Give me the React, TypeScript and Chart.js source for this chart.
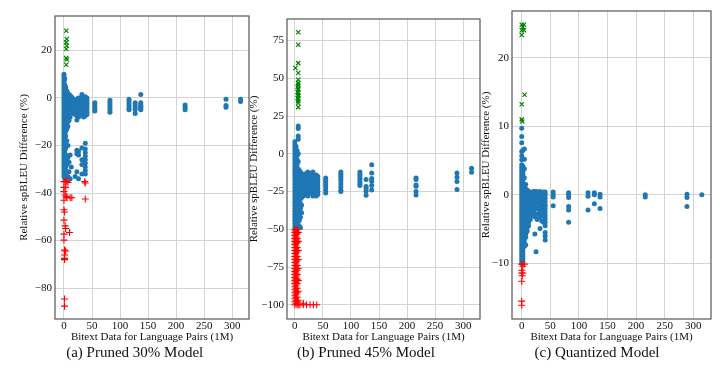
import React, { useEffect, useRef } from "react";
import { Chart, registerables } from "chart.js";

Chart.register(...registerables);

type Col = [number, number[]];

// ---------- tick labels ----------
const xTicks = [0, 50, 100, 150, 200, 250, 300];
const yTicksA = [-80, -60, -40, -20, 0, 20];
const yTicksB = [-100, -75, -50, -25, 0, 25, 50, 75];
const yTicksC = [-10, 0, 10, 20];

const xTitle = "Bitext Data for Language Pairs (1M)";
const yTitle = "Relative spBLEU Difference (%)";
const captions = ["(a) Pruned 30% Model", "(b) Pruned 45% Model", "(c) Quantized Model"];

// ---------- (a) Pruned 30% ----------
const aBlue: Col[] = [
  [0, [10, 9, 8, 7, 6, 5, 4, 3, 2, 1, 0, -1, -2, -3, -4, -5, -6, -7, -8, -9, -10, -11, -12, -13, -14, -15, -16, -17, -18, -19, -20, -21, -22, -23, -24, -25, -26, -27, -28, -29, -30, -31, -32, -33]],
  [1.5, [8, 5.5, 4, 3, 2, 1, 0, -1, -2, -3, -4, -5, -6, -7, -8, -9, -10, -11, -12, -13, -14, -15, -16, -17, -18, -19, -20, -21, -22, -23, -24, -25, -26, -27, -28, -29, -30, -32, -34]],
  [3, [4.5, 2.5, 1.5, 0.5, -0.5, -1.5, -2.5, -3.5, -4.5, -5.5, -6.5, -7.5, -8.5, -9.5, -10.5, -11.5, -12.5, -14, -16, -21, -24, -27, -29]],
  [5, [3, 1.5, 0.5, -0.5, -1.5, -2.5, -3.5, -4.5, -5.5, -6.5, -7.5, -8.5, -9.5, -11, -13, -18, -26, -28, -31]],
  [7, [2, 1, 0, -1, -2, -3, -4, -5, -6, -7, -8, -9, -10, -12, -20, -25, -33]],
  [9, [1.5, 0.5, -0.5, -1.5, -2.5, -3.5, -4.5, -5.5, -6.5, -7.5, -8.5, -9.5, -27, -31]],
  [11, [1, 0, -1, -2, -3, -4, -5, -6, -7, -8, -24, -34]],
  [13, [0.5, -0.5, -1.5, -2.5, -3.5, -4.5, -5.5, -6.5, -29]],
  [15, [0, -1, -2, -3, -4, -5, -6]],
  [20, [-1, -2.5, -4, -5.5, -7, -33]],
  [23, [-0.5, -1.5, -2.5, -3.5, -4.5, -5.5, -6.5, -7.5, -9.3, -22, -23.5, -31]],
  [26, [0, -1, -2, -3, -4, -5, -6, -7, -8, -22.5, -24, -34]],
  [29, [-1, -2, -3, -4, -5, -6, -7]],
  [32, [1.5, 0, -1, -2, -3, -4, -5, -6, -7, -21, -26, -28, -32]],
  [35, [-0.5, -1.5, -2.5, -3.5, -4.5, -5.5, -6.5, -8]],
  [38, [0.5, -0.5, -1.5, -2.5, -3.5, -4.5, -5.5, -6.5, -7.5, -19, -21.5, -23, -24.5, -26, -27.5, -29, -30.5, -32]],
  [41, [0, -1, -2, -3, -4, -5, -6, -7]],
  [55, [-2, -3, -4, -5, -5.5]],
  [82, [-1, -2, -3, -4, -5, -6]],
  [116, [-0.5, -1.5, -2.5, -3.5, -4.5, -5]],
  [127, [-2, -3, -4, -5, -6.5]],
  [137, [1.5, -2, -3, -3.5, -4, -4.5, -5]],
  [216, [-3, -4, -5]],
  [289, [-0.5, -3.2, -3.9]],
  [315, [-0.5, -1.5]],
];
const aRedX = [0, 3, 5, 7, 37, 38, 0, 3, 0, 2, 4, 5, 11, 14, 38, 0, 0, 1, 0, 2, 3, 10, 0, 0, 1, 3, 1, 1, 1, 1, 1];
const aRedY = [-35.2, -35.2, -35, -35.5, -35.2, -35.8, -37.6, -37.6, -39.4, -40.8, -41.5, -42, -42, -42, -42.5, -43, -47, -48, -51.4, -53.8, -54.9, -56.6, -57.3, -59.8, -64, -64.4, -66.1, -67.5, -68, -84.6, -87.6];
const aGreenX = [4, 5, 4, 5, 4, 4, 5, 4];
const aGreenY = [28.3, 24.8, 23.4, 22, 20.6, 16.8, 16.2, 14];

// ---------- (b) Pruned 45% ----------
const bBlue: Col[] = [
  [0, [8, 6, 4, 2, 0, -2, -4, -6, -8, -10, -12, -14, -16, -18, -20, -22, -24, -26, -28, -30, -32, -34, -36, -38, -40, -42, -44, -46, -48, -50]],
  [2, [5, 3, 1, -1, -3, -5, -7, -9, -11, -13, -15, -17, -19, -21, -23, -25, -27, -29, -31, -33, -35, -37, -39, -41, -43, -45, -47, -49]],
  [4, [2, -1, -4, -7, -10, -12, -14, -16, -18, -20, -22, -24, -26, -28, -30, -32, -34, -36, -38, -40, -42, -44, -46, -48, -50]],
  [6, [18.4, 16.7, 11.8, 9.7, 0, -5, -10, -12, -14, -16, -18, -20, -22, -24, -26, -28, -30, -32, -34, -36, -38, -40, -42, -45]],
  [8, [-11, -13, -15, -17, -19, -21, -23, -25, -27, -29, -31, -33, -35, -37, -40, -44, -48]],
  [10, [-12, -14, -16, -18, -20, -22, -24, -26, -28, -30, -33, -36, -42, -49]],
  [12, [-13, -15, -17, -19, -21, -23, -25, -27, -29, -34, -39]],
  [15, [-14, -16, -18, -20, -22, -24, -26, -28]],
  [20, [-13, -15, -17, -19, -21, -23, -25, -27]],
  [23, [-12, -14, -16, -18, -20, -22, -24, -26, -28]],
  [26, [-14, -16, -18, -20, -22, -24, -26]],
  [29, [-13, -15, -17, -19, -21, -23, -25]],
  [32, [-12, -14, -16, -18, -20, -22, -24, -26, -28]],
  [35, [-15, -17, -19, -21, -23, -25, -27]],
  [38, [-14, -16, -18, -20, -22, -24, -26, -28]],
  [41, [-15, -17, -19, -21, -23, -25, -27]],
  [55, [-16, -17.5, -19, -20.5, -22, -24, -26]],
  [82, [-12, -13.5, -15, -16.5, -18, -20, -22, -24, -25]],
  [116, [-12, -13.5, -15, -16.5, -18, -19.5, -21]],
  [127, [-17, -21.6, -23, -24.8, -27.4]],
  [137, [-7.2, -12.7, -16.4, -18.2, -20.9, -24]],
  [216, [-16, -17, -20.6, -21.5, -25, -27.2]],
  [289, [-12.7, -15.5, -18.4, -23.7]],
  [315, [-9.6, -12.2]],
];
const bRed: Col[] = [
  [0, [-50, -52, -54, -56, -58, -60, -62, -64, -66, -68, -70, -72, -74, -76, -78, -80, -82, -84, -86, -88, -90, -92, -94, -96, -98, -100]],
  [2, [-51, -53, -55, -57, -59, -61, -63, -65, -67, -69, -71, -73, -75, -77, -79, -81, -83, -85, -87, -89, -91, -93, -95, -97, -99]],
  [4, [-50, -53, -56, -59, -62, -65, -68, -71, -74, -77, -80, -83, -86, -89, -92, -95, -98, -100]],
  [6, [-52, -58, -64, -70, -76, -84, -91, -97, -100]],
  [9, [-100]],
  [15, [-100, -99]],
  [21, [-100]],
  [27, [-100]],
  [33, [-100]],
  [39, [-100]],
];
const bGreenX = [6, 6, 6, 1, 6, 6, 6, 6, 5, 6, 6, 5, 6, 6, 6, 5, 6, 6, 6, 6];
const bGreenY = [80.5, 72.2, 60.1, 56.8, 53.5, 49.1, 47, 45.8, 44.3, 43, 42.6, 41, 40.4, 39, 38.2, 37, 36.6, 34.9, 33.5, 30.9];

// ---------- (c) Quantized ----------
const cBlue: Col[] = [
  [0, [9.7, 8.5, 7.6, 6.3, 5.7, 5.1, 4.4, 4.0, 3.6, 3.2, 2.8, 2.4, 2.0, 1.6, 1.2, 0.8, 0.4, 0, -0.4, -0.8, -1.2, -1.6, -2.0, -2.4, -2.8, -3.2, -3.6, -4.0, -4.4, -4.8, -5.2, -5.6, -6.0, -6.4, -6.8, -7.2, -7.6, -8.0, -8.4, -8.8, -9.2, -9.6, -10.0]],
  [2, [6.5, 4.2, 3.8, 3.4, 3.0, 2.6, 2.2, 1.8, 1.4, 1.0, 0.6, 0.2, -0.2, -0.6, -1.0, -1.4, -1.8, -2.2, -2.6, -3.0, -3.4, -3.8, -4.2, -4.6, -5.0, -5.4, -5.8, -6.2, -6.6, -7.0, -7.4, -7.8, -8.2, -8.6, -9.0, -9.4, -9.8]],
  [4.6, [6.7, 5.2, 3.8, 2.5, 1.5, 1.0, 0.5, 0, -0.5, -1.0, -1.5, -2.0, -2.5, -3.0, -3.5, -4.0, -4.5, -5.0, -5.5, -6.0, -6.5, -7.0, -7.5]],
  [7, [1.5, 0.8, 0.3, -0.2, -0.7, -1.2, -1.7, -2.2, -2.7, -3.2, -3.7, -4.2, -4.7, -5.2, -5.7, -6.2, -7.3]],
  [9.5, [0.7, 0.2, -0.3, -0.8, -1.3, -1.8, -2.3, -2.8, -3.3, -3.8, -4.3, -4.8, -5.3]],
  [12, [0.5, 0, -0.5, -1.0, -1.5, -2.0, -2.5, -3.0, -3.5, -4.0, -4.5]],
  [15, [0.4, -0.1, -0.6, -1.1, -1.6, -2.1, -2.6, -3.1, -3.6]],
  [18, [0.3, -0.3, -0.9, -1.5, -2.1, -2.7]],
  [21, [0.5, 0, -0.5, -1.0, -1.5, -2.0, -2.5, -3.0]],
  [23, [0.3, -0.5, -1.3, -2.1, -3.2, -5.7]],
  [25, [0.5, -0.2, -1.0, -2.0, -8.3]],
  [27, [0.4, -0.3, -1.1, -1.9, -2.8, -3.6]],
  [30, [0.3, -0.4, -1.2, -2.0, -2.8]],
  [32, [0.5, 0, -0.8, -1.6, -2.4, -3.2, -4.9]],
  [35, [0.3, -0.5, -1.3, -2.2, -3.0, -3.8]],
  [38, [0.4, -0.2, -0.9, -1.6, -2.4, -3.1, -4.0]],
  [41, [0.4, 0, -0.5, -1, -1.5, -2, -2.5, -3, -3.5, -4, -4.5, -5.5, -6, -6.6]],
  [55, [0.4, 0, -0.3, -1.6]],
  [82, [0.3, 0, -0.4, -1.7, -2.2, -4]],
  [116, [0.3, -0.2, -2.2]],
  [127, [0.3, 0, -1.3]],
  [137, [0.1, -0.3, -2.0]],
  [216, [0, -0.3]],
  [289, [0.1, -0.4, -1.7]],
  [315, [0]],
];
const cRedX = [0, 4.6, 2, 0, 2, 0, 1, 0, 0, 0];
const cRedY = [-10.1, -10.1, -10.4, -11, -11.4, -11.4, -11.8, -12.6, -15.5, -16.1];
const cGreenX = [0, 4, 2, 0, 4, 0, 5, 0, 0, 1];
const cGreenY = [24.8, 24.8, 24.5, 24, 24, 23.3, 14.6, 13.2, 11, 10.7];

// ---------- helpers ----------
const fromCols = (cols: Col[]) => cols.flatMap(([x, ys]) => ys.map((y) => ({ x, y })));
const fromXY = (xs: number[], ys: number[]) => xs.map((x, i) => ({ x, y: ys[i] }));

const SERIF = "'Liberation Serif', 'DejaVu Serif', 'Times New Roman', serif";

interface PanelCfg {
  blue: { x: number; y: number }[];
  red: { x: number; y: number }[];
  green: { x: number; y: number }[];
  yTicks: number[];
  yMin: number;
  yMax: number;
  xMin: number;
  xMax: number;
  padLeft: number;
  padRight: number;
  padTop: number;
  yWidth: number;
}

const panels: PanelCfg[] = [
  {
    blue: fromCols(aBlue), red: fromXY(aRedX, aRedY), green: fromXY(aGreenX, aGreenY),
    yTicks: yTicksA, yMin: -93, yMax: 34.5, xMin: -16, xMax: 330,
    padLeft: 14, padRight: 720 - 249, padTop: 16, yWidth: 41,
  },
  {
    blue: fromCols(bBlue), red: fromCols(bRed), green: fromXY(bGreenX, bGreenY),
    yTicks: yTicksB, yMin: -109.4, yMax: 89.3, xMin: -14, xMax: 330,
    padLeft: 244, padRight: 720 - 480, padTop: 19, yWidth: 43,
  },
  {
    blue: fromCols(cBlue), red: fromXY(cRedX, cRedY), green: fromXY(cGreenX, cGreenY),
    yTicks: yTicksC, yMin: -18.1, yMax: 26.8, xMin: -17, xMax: 331,
    padLeft: 476, padRight: 9, padTop: 11, yWidth: 36,
  },
];

const framePlugin = {
  id: "frame",
  afterDraw(chart: any) {
    const { ctx, chartArea } = chart;
    ctx.save();
    ctx.strokeStyle = "#555555";
    ctx.lineWidth = 1.2;
    ctx.strokeRect(chartArea.left, chartArea.top, chartArea.right - chartArea.left, chartArea.bottom - chartArea.top);
    ctx.restore();
  },
};

const minus = (v: any) => String(v).replace("-", "\u2212");

function Panel({ cfg }: { cfg: PanelCfg }) {
  const ref = useRef<HTMLCanvasElement>(null);
  useEffect(() => {
    const chart = new Chart(ref.current as HTMLCanvasElement, {
      type: "scatter",
      data: {
        datasets: [
          {
            data: cfg.red, pointStyle: "cross", pointRadius: 3.5,
            borderColor: "#ff0000", backgroundColor: "#ff0000", borderWidth: 1.1,
          },
          {
            data: cfg.green, pointStyle: "crossRot", pointRadius: 3,
            borderColor: "#008000", backgroundColor: "#008000", borderWidth: 1.2,
          },
          {
            data: cfg.blue, pointStyle: "circle", pointRadius: 2.5,
            backgroundColor: "#1f77b4", borderColor: "#1f77b4", borderWidth: 0,
          },
        ],
      } as any,
      options: {
        animation: false,
        responsive: false,
        devicePixelRatio: 1,
        events: [],
        layout: { padding: { left: cfg.padLeft, right: cfg.padRight, top: cfg.padTop, bottom: 30 } },
        plugins: { legend: { display: false }, tooltip: { enabled: false } },
        scales: {
          x: {
            type: "linear",
            min: cfg.xMin,
            max: cfg.xMax,
            afterBuildTicks: (s: any) => { s.ticks = xTicks.map((v) => ({ value: v })); },
            afterFit: (s: any) => { s.height = 29; },
            grid: { color: "#d4d4d4", lineWidth: 1, drawTicks: false },
            border: { display: false },
            ticks: { color: "#111", font: { family: SERIF, size: 11 }, padding: 1, maxRotation: 0, callback: minus },
            title: { display: true, text: xTitle, color: "#111", font: { family: SERIF, size: 11 }, padding: { top: 0, bottom: 4 } },
          },
          y: {
            type: "linear",
            min: cfg.yMin,
            max: cfg.yMax,
            afterBuildTicks: (s: any) => { s.ticks = cfg.yTicks.map((v) => ({ value: v })); },
            afterFit: (s: any) => { s.width = cfg.yWidth; },
            grid: { color: "#d4d4d4", lineWidth: 1, drawTicks: false },
            border: { display: false },
            ticks: { color: "#111", font: { family: SERIF, size: 11 }, padding: 3, callback: minus },
            title: { display: true, text: yTitle, color: "#111", font: { family: SERIF, size: 11 }, padding: { top: 4, bottom: 0 } },
          },
        },
      } as any,
      plugins: [framePlugin],
    });
    return () => chart.destroy();
  }, [cfg]);
  return (
    <canvas
      ref={ref}
      width={720}
      height={378}
      style={{ position: "absolute", left: 0, top: 0, width: 720, height: 378 }}
    />
  );
}

const captionCenters = [134.7, 366, 597];

export default function App() {
  return (
    <div style={{ position: "absolute", left: 0, top: 0, width: 720, height: 378, background: "#fff", overflow: "hidden" }}>
      {panels.map((p, i) => (
        <Panel key={i} cfg={p} />
      ))}
      {captions.map((c, i) => (
        <div
          key={c}
          style={{
            position: "absolute",
            left: captionCenters[i] - 120,
            width: 240,
            top: 343,
            textAlign: "center",
            fontFamily: SERIF,
            fontSize: 15,
            lineHeight: "18px",
            color: "#111",
          }}
        >
          {c}
        </div>
      ))}
    </div>
  );
}
